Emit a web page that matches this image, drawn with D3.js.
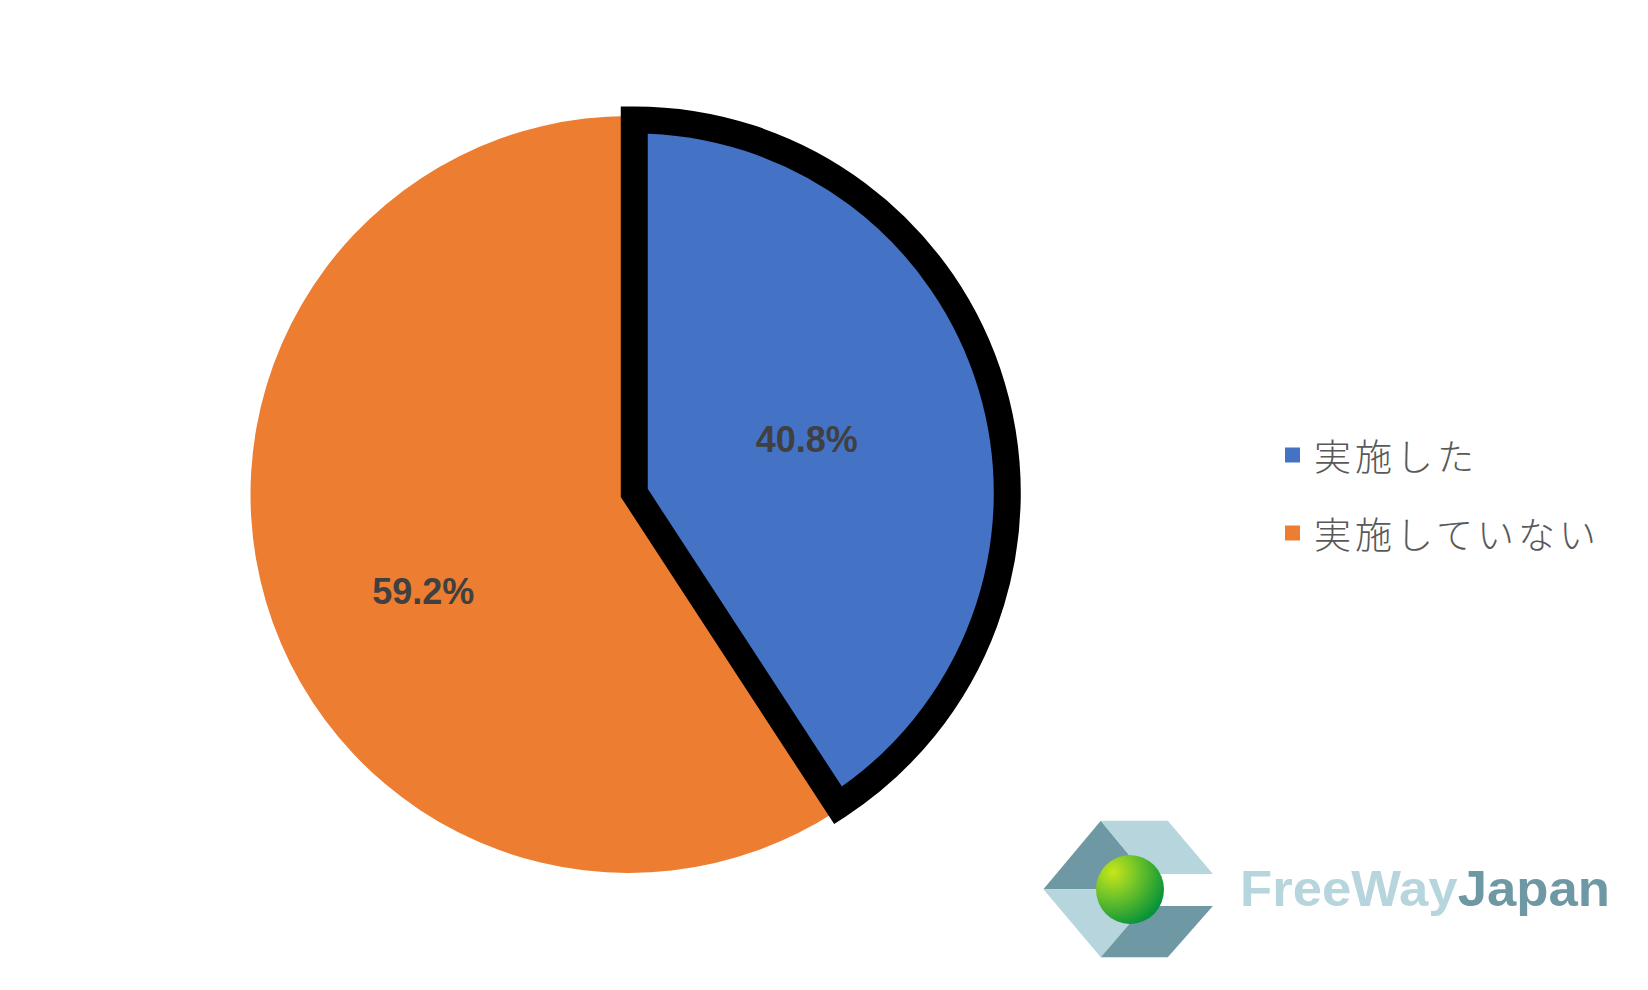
<!DOCTYPE html>
<html><head><meta charset="utf-8">
<script src="https://cdn.jsdelivr.net/npm/d3@7"></script>
<style>html,body{margin:0;padding:0;background:#fff;}svg{display:block;}</style>
</head><body>
<svg id="chart" width="1648" height="990"></svg>
<script>
// ---- data ----
const categories = ["実施した", "実施していない"];
const values = [40.8, 59.2];
const colors = ["#4472C4", "#ED7D31"];
const labels = ["40.8%", "59.2%"];
const logoWords = ["FreeWay", "Japan"];

// ---- layout ----
const W = 1648, H = 990;
const cx = 629, cy = 494.5, R = 378.5;
const explode = 5.5;           // highlighted slice pulled out
const highlightR = 373;
const labelR = [0.49, 0.6];
const labelNudge = [[0, -2], [12, 32]];

const svg = d3.select("#chart");

const pie = d3.pie().sort(null).value(d => d)(values);

const g = svg.append("g").attr("transform", `translate(${cx},${cy})`);

// draw non-highlighted slices first, then the highlighted (index 0) on top
const order = [1, 0];
order.forEach(i => {
  const p = pie[i];
  const isHi = i === 0;
  const r = isHi ? highlightR : R;
  const arc = d3.arc().innerRadius(0).outerRadius(r);
  const mid = (p.startAngle + p.endAngle) / 2;
  const dx = isHi ? Math.sin(mid) * explode : 0;
  const dy = isHi ? -Math.cos(mid) * explode : 0;
  g.append("path")
    .attr("d", arc(p))
    .attr("transform", `translate(${dx},${dy})`)
    .attr("fill", colors[i])
    .attr("stroke", isHi ? "#000" : "none")
    .attr("stroke-width", isHi ? 27 : 0)
    .attr("stroke-linejoin", "miter")
    .attr("stroke-miterlimit", 10);
});

// data labels
pie.forEach((p, i) => {
  const lr = R * labelR[i];
  const la = d3.arc().innerRadius(lr).outerRadius(lr);
  const c = la.centroid(p);
  g.append("text")
    .attr("x", c[0] + labelNudge[i][0])
    .attr("y", c[1] + labelNudge[i][1])
    .attr("text-anchor", "middle")
    .attr("dominant-baseline", "central")
    .attr("font-family", "'Liberation Sans', Arial, sans-serif")
    .attr("font-weight", "bold")
    .attr("font-size", 36)
    .attr("fill", "#404040")
    .text(labels[i]);
});

// legend
const legend = svg.append("g").attr("transform", "translate(1285,455)");
categories.forEach((c, i) => {
  const row = legend.append("g").attr("transform", `translate(0,${i * 78})`);
  row.append("rect").attr("x", 0).attr("y", -7.5).attr("width", 15).attr("height", 15).attr("fill", colors[i]);
  row.append("text")
    .attr("x", 29).attr("y", 0)
    .attr("dominant-baseline", "central")
    .attr("font-family", "'Noto Sans CJK JP', sans-serif")
    .attr("font-weight", 300)
    .attr("font-size", 37)
    .attr("letter-spacing", 4)
    .attr("fill", "#595959")
    .text(c);
});

// logo
const logo = svg.append("g");
const pts = {
  L: [1043.4, 889.3], TL: [1100.8, 820.7], TR: [1167.8, 820.7], RT: [1212.9, 874],
  CT: [1144.8, 874], CM: [1144.8, 889.3], CB: [1144.8, 906], RB: [1212.9, 906],
  BR: [1167.8, 957.3], BL: [1100.8, 957.3]
};
const poly = (arr, fill) => logo.append("polygon")
  .attr("points", arr.map(k => pts[k].join(",")).join(" ")).attr("fill", fill);
poly(["L", "TL", "CT", "CM"], "#6E98A3");
poly(["TL", "TR", "RT", "CT"], "#B7D5DC");
poly(["L", "CM", "CB", "BL"], "#B7D5DC");
poly(["BL", "CB", "RB", "BR"], "#6E98A3");
const defs = svg.append("defs");
const grad = defs.append("radialGradient").attr("id", "ball").attr("cx", "25%").attr("cy", "25%").attr("r", "85%");
grad.append("stop").attr("offset", "0%").attr("stop-color", "#C8E61A");
grad.append("stop").attr("offset", "45%").attr("stop-color", "#6CC22A");
grad.append("stop").attr("offset", "100%").attr("stop-color", "#00903A");
defs.append("clipPath").attr("id", "ballclip").append("rect")
  .attr("x", 1080).attr("y", 840).attr("width", 84).attr("height", 100);
logo.append("ellipse").attr("cx", 1130).attr("cy", 889.5).attr("rx", 34).attr("ry", 34.5)
  .attr("fill", "url(#ball)").attr("clip-path", "url(#ballclip)");

const lt = logo.append("text")
  .attr("font-family", "'Liberation Sans', Arial, sans-serif")
  .attr("font-weight", "bold").attr("font-size", 50);
lt.append("tspan").attr("fill", "#B7D5DC").text(logoWords[0]);
lt.append("tspan").attr("fill", "#6E98A3").text(logoWords[1]);
const natural = lt.node().getComputedTextLength();
const targetW = 370;
lt.attr("transform", `translate(1240,906) scale(${targetW / natural},1)`);
</script>
</body></html>
